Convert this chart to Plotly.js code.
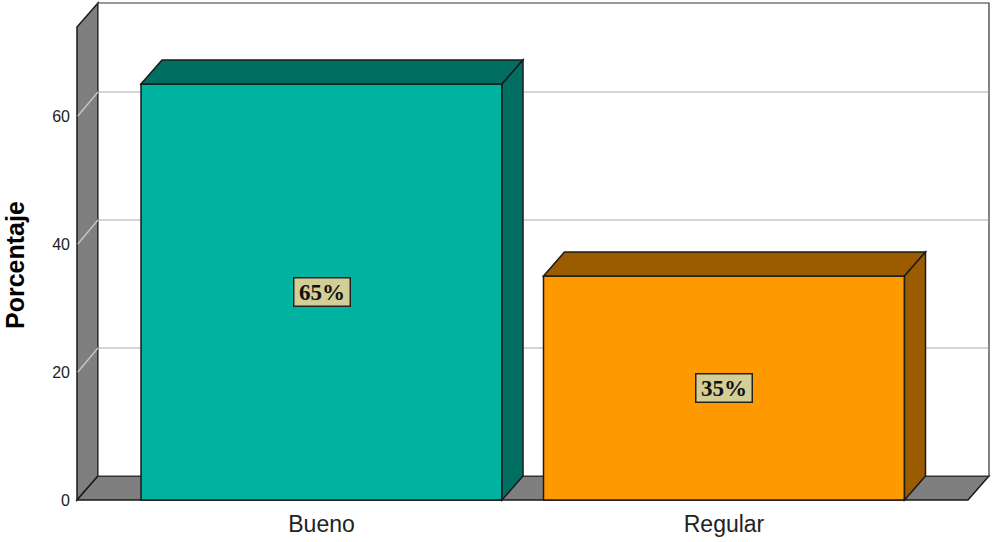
<!DOCTYPE html>
<html>
<head>
<meta charset="utf-8">
<script src="https://cdn.plot.ly/plotly-3.0.1.min.js"></script>
<style>html,body{margin:0;padding:0;background:#fff;}#chart{width:992px;height:542px;}</style>
</head>
<body>
<div id="chart"></div>
<script>
// ---- data ----
const categories = ['Bueno', 'Regular'];
const values = [65, 35];
const valueLabels = ['65%', '35%'];
const yTicks = [0, 20, 40, 60];
const yTitle = 'Porcentaje';
const frontColors = ['#00b2a0', '#ff9900'];
const shadeColors = ['#006f61', '#9b5c00'];

// ---- frame geometry (pixel design of the 3D box) ----
const W = 992, H = 542;
const M = {l: 74, r: 1, t: 1, b: 40};
const PX_PER_CAT = 402.5, CAT0_PX = 321.5;   // category spacing / first centre
const PX_PER_UNIT = 6.4, ZERO_PX = 500;      // value scale / front floor line
const px2x = p => (p - CAT0_PX) / PX_PER_CAT;
const px2y = p => (ZERO_PX - p) / PX_PER_UNIT;
const xRange = [px2x(M.l), px2x(W - M.r)];
const yRange = [px2y(H - M.b), px2y(M.t)];
const dx = 21 / PX_PER_CAT, dy = 24 / PX_PER_UNIT;  // depth offset
const xFront = px2x(77);        // front-left edge
const xBackR = px2x(989);       // back wall right edge
const yBackT = px2y(3);         // back wall top
const barW = 361 / PX_PER_CAT;

const edge = {color: '#1a1a1a', width: 1.5};
const shapes = [];
const poly = pts => 'M ' + pts.map(p => p[0] + ',' + p[1]).join(' L ') + ' Z';

// left wall
shapes.push({type: 'path', xref: 'x', yref: 'y', layer: 'below',
  path: poly([[xFront, 0], [xFront, yBackT - dy], [xFront + dx, yBackT], [xFront + dx, dy]]),
  fillcolor: '#7f7f7f', line: edge});
// floor
shapes.push({type: 'path', xref: 'x', yref: 'y', layer: 'below',
  path: poly([[xFront, 0], [xBackR - dx, 0], [xBackR, dy], [xFront + dx, dy]]),
  fillcolor: '#7f7f7f', line: edge});
// back wall
shapes.push({type: 'rect', xref: 'x', yref: 'y', layer: 'below',
  x0: xFront + dx, x1: xBackR, y0: dy, y1: yBackT,
  fillcolor: '#ffffff', line: {color: '#333', width: 1.2}});
// grid lines on back wall + left wall
yTicks.filter(v => v > 0).forEach(v => {
  shapes.push({type: 'line', xref: 'x', yref: 'y', layer: 'below',
    x0: xFront + dx + 0.002, x1: xBackR - 0.002, y0: v + dy, y1: v + dy,
    line: {color: '#d4d4d4', width: 2}});
  shapes.push({type: 'line', xref: 'x', yref: 'y', layer: 'below',
    x0: xFront + 0.002, x1: xFront + dx, y0: v, y1: v + dy,
    line: {color: '#c4c4c4', width: 1.5}});
});
// bar tops and sides
values.forEach((v, i) => {
  const l = i - barW / 2, r = i + barW / 2;
  shapes.push({type: 'path', xref: 'x', yref: 'y', layer: 'above',
    path: poly([[l, v], [l + dx, v + dy], [r + dx, v + dy], [r, v]]),
    fillcolor: shadeColors[i], line: edge});
  shapes.push({type: 'path', xref: 'x', yref: 'y', layer: 'above',
    path: poly([[r, 0], [r, v], [r + dx, v + dy], [r + dx, dy]]),
    fillcolor: shadeColors[i], line: edge});
});

const annotations = values.map((v, i) => ({
  x: i, y: v / 2, xref: 'x', yref: 'y', showarrow: false,
  text: '<b>' + valueLabels[i] + '</b>',
  font: {family: 'Liberation Serif, Times New Roman, serif', size: 23, color: '#111'},
  width: 55, height: 27, align: 'center', valign: 'middle',
  bgcolor: '#d3ce96', bordercolor: '#222', borderwidth: 1.5, borderpad: 0
}));
// y-axis title (placed like the SPSS original, slightly below centre)
annotations.push({
  xref: 'paper', yref: 'paper', x: -59 / (W - M.l - M.r), y: (H - M.b - 265) / (H - M.t - M.b),
  xanchor: 'center', yanchor: 'middle', textangle: -90, showarrow: false,
  text: '<b>' + yTitle + '</b>',
  font: {family: 'Liberation Sans, Arial, sans-serif', size: 25, color: '#000'}
});

const trace = {
  type: 'bar', x: categories.map((c, i) => i), y: values, width: barW,
  marker: {color: frontColors, line: edge},
  hoverinfo: 'skip', showlegend: false
};

const layout = {
  width: W, height: H, margin: M,
  paper_bgcolor: '#ffffff', plot_bgcolor: 'rgba(0,0,0,0)',
  showlegend: false,
  xaxis: {range: xRange, tickvals: categories.map((c, i) => i), ticktext: categories,
    showgrid: false, zeroline: false, showline: false, ticks: '', ticklabelstandoff: 6,
    tickfont: {family: 'Liberation Sans, Arial, sans-serif', size: 23, color: '#222'}},
  yaxis: {range: yRange, tickvals: yTicks, showgrid: false, zeroline: false,
    showline: false, ticks: '', ticklabelstandoff: 3,
    tickfont: {family: 'Liberation Sans, Arial, sans-serif', size: 16, color: '#222'}},
  shapes: shapes, annotations: annotations
};

Plotly.newPlot('chart', [trace], layout, {displayModeBar: false, staticPlot: true});
</script>
</body>
</html>
